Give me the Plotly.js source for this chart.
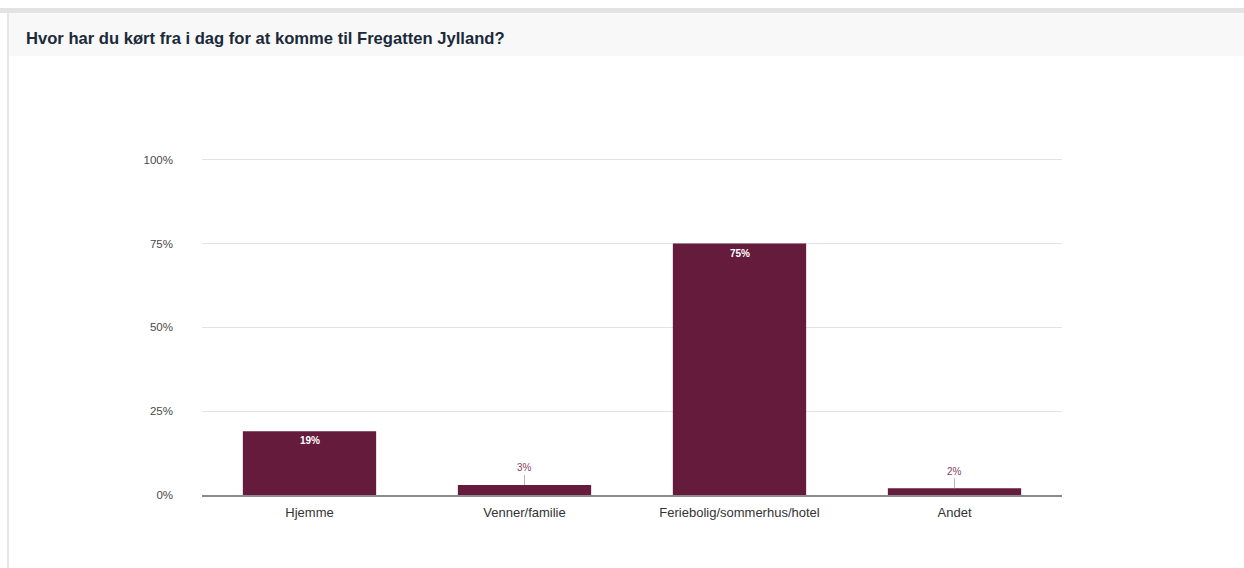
<!DOCTYPE html>
<html>
<head>
<meta charset="utf-8">
<script src="https://cdn.plot.ly/plotly-3.0.1.min.js"></script>
<style>
html,body{margin:0;padding:0;background:#fff;}
#wrap{position:relative;width:1244px;height:568px;overflow:hidden;}
#topband{position:absolute;left:0;top:8px;width:1244px;height:5px;background:#e3e3e3;}
#leftband{position:absolute;left:7px;top:13px;width:2px;height:555px;background:#e6e6e6;}
#header{position:absolute;left:9px;top:13px;width:1235px;height:43px;background:#f8f8f8;}
#chart{position:absolute;left:0;top:0;width:1244px;height:568px;}
</style>
</head>
<body>
<div id="wrap">
<div id="topband"></div>
<div id="leftband"></div>
<div id="header"></div>
<div id="chart"></div>
</div>
<script>
const categories = ["Hjemme", "Venner/familie", "Feriebolig/sommerhus/hotel", "Andet"];
const values = [0.19, 0.03, 0.75, 0.02];
const labels = ["19%", "3%", "75%", "2%"];
const insideLabel = [true, false, true, false];
const yTickVals = [0, 0.25, 0.5, 0.75, 1];
const yTickText = ["0%", "25%", "50%", "75%", "100%"];

const barColor = "#641b3c";
const FONT = "Liberation Sans, Arial, sans-serif";

const annotations = categories.map((c, i) => {
  if (insideLabel[i]) {
    return {
      x: c, y: values[i], xref: "x", yref: "y",
      text: "<b>" + labels[i] + "</b>", showarrow: false,
      yanchor: "top", yshift: -2,
      font: {family: FONT, size: 10, color: "#ffffff"}
    };
  }
  return {
    x: c, y: values[i], xref: "x", yref: "y",
    text: labels[i], showarrow: true, arrowhead: 0, arrowwidth: 1,
    arrowcolor: "#b5b5b5", ax: 0, ay: -17, standoff: 0, startstandoff: 0,
    font: {family: FONT, size: 10, color: "#8a3d60"}
  };
});

const data = [{
  type: "bar",
  x: categories,
  y: values,
  marker: {color: barColor, line: {width: 0}},
  hoverinfo: "none"
}];

const layout = {
  width: 1244, height: 568,
  paper_bgcolor: "rgba(0,0,0,0)",
  plot_bgcolor: "rgba(0,0,0,0)",
  margin: {l: 202, r: 182, t: 153, b: 73, pad: 0},
  bargap: 0.38,
  showlegend: false,
  font: {family: FONT, color: "#4a4a4a"},
  title: {
    text: "<b>Hvor har du kørt fra i dag for at komme til Fregatten Jylland?</b>",
    xref: "container", yref: "container",
    x: 26/1244, xanchor: "left",
    y: 1 - 38/568, yanchor: "middle",
    font: {family: FONT, size: 16.6, color: "#1b2a3a"}
  },
  xaxis: {
    type: "category",
    showgrid: false, zeroline: false,
    showline: true, linecolor: "#8c8c8c", linewidth: 2,
    ticks: "", ticklen: 0, ticklabelstandoff: 4,
    color: "#333333",
    tickfont: {family: FONT, size: 13, color: "#333333"},
    fixedrange: true
  },
  yaxis: {
    range: [0, 1.02],
    tickmode: "array",
    tickvals: yTickVals,
    ticktext: yTickText,
    showgrid: true, gridcolor: "#e3e3e3", gridwidth: 1,
    zeroline: false, showline: false,
    ticks: "", ticklabelstandoff: 28,
    color: "#4a4a4a",
    tickfont: {family: FONT, size: 11.5, color: "#4a4a4a"},
    fixedrange: true
  },
  annotations: annotations
};

Plotly.newPlot("chart", data, layout, {displayModeBar: false, staticPlot: true});
</script>
</body>
</html>
